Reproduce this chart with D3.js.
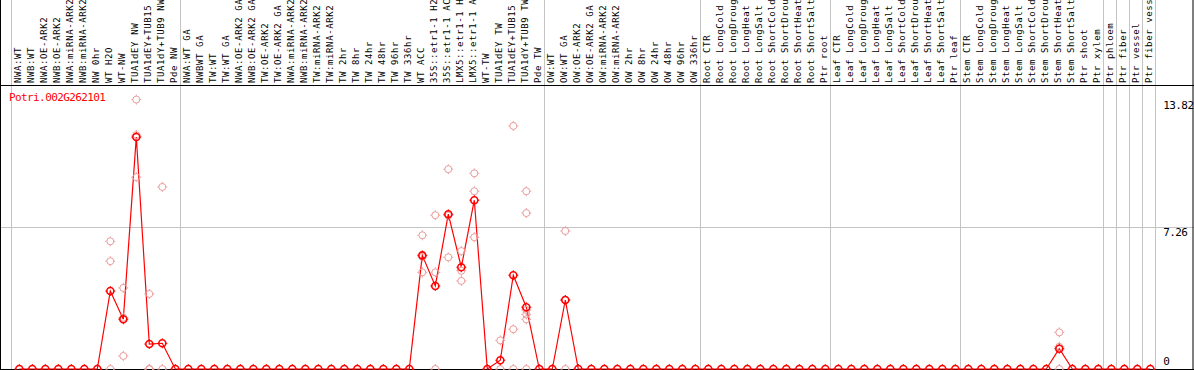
<!DOCTYPE html>
<html>
<head>
<meta charset="utf-8">
<script src="https://cdn.jsdelivr.net/npm/d3@7"></script>
<style>
  body { margin: 0; background: #ffffff; }
  svg { display: block; }
  text { font-family: "DejaVu Sans Mono", "Liberation Mono", monospace; }
</style>
</head>
<body>
<svg width="1194" height="370"></svg>
<script>
const geneName = "Potri.002G262101";

const sampleLabels = [
  "NWA:WT", "NWB:WT", "NWA:OE-ARK2", "NWB:OE-ARK2", "NWA:miRNA-ARK2", "NWB:miRNA-ARK2",
  "NW 0hr", "WT H2O", "WT-NW", "TUA1dEY NW", "TUA1dEY+TUB15 NW", "TUA1dY+TUB9 NW", "Pde NW",
  "NWA:WT GA", "NWBWT GA", "TW:WT", "TW:WT GA", "NWA:OE-ARK2 GA", "NWB:OE-ARK2 GA",
  "TW:OE-ARK2", "TW:OE-ARK2 GA", "NWA:miRNA-ARK2", "NWB:miRNA-ARK2", "TW:miRNA-ARK2",
  "TW:miRNA-ARK2", "TW 2hr", "TW 8hr", "TW 24hr", "TW 48hr", "TW 96hr", "TW 336hr", "WT ACC",
  "35S::etr1-1 H2O", "35S::etr1-1 ACC", "LMX5::etr1-1 H2O", "LMX5::etr1-1 ACC", "WT-TW",
  "TUA1dEY TW", "TUA1dEY+TUB15 TW", "TUA1dY+TUB9 TW", "Pde TW",
  "OW:WT", "OW:WT GA", "OW:OE-ARK2", "OW:OE-ARK2 GA", "OW:miRNA-ARK2", "OW:miRNA-ARK2",
  "OW 2hr", "OW 8hr", "OW 24hr", "OW 48hr", "OW 96hr", "OW 336hr",
  "Root CTR", "Root LongCold", "Root LongDrought", "Root LongHeat", "Root LongSalt",
  "Root ShortCold", "Root ShortDrought", "Root ShortHeat", "Root ShortSalt", "Ptr root",
  "Leaf CTR", "Leaf LongCold", "Leaf LongDrought", "Leaf LongHeat", "Leaf LongSalt",
  "Leaf ShortCold", "Leaf ShortDrought", "Leaf ShortHeat", "Leaf ShortSalt", "Ptr leaf",
  "Stem CTR", "Stem LongCold", "Stem LongDrought", "Stem LongHeat", "Stem LongSalt",
  "Stem ShortCold", "Stem ShortDrought", "Stem ShortHeat", "Stem ShortSalt", "Ptr shoot",
  "Ptr xylem",
  "Ptr phloem", "Ptr fiber", "Ptr vessel", "Ptr fiber vessel"
];

// Sample index where each group starts; the last entry closes the final group.
const groupStarts = [0, 13, 41, 53, 63, 73, 84, 85, 86, 87, 88];

// Mean expression per sample (the dark red line).
const meanValues = [
  0, 0, 0, 0, 0, 0, 0, 4.00, 2.55, 11.90, 1.28, 1.32, 0,
  0, 0, 0, 0, 0, 0, 0, 0, 0, 0, 0, 0, 0, 0, 0, 0, 0, 0,
  5.83, 4.26, 7.94, 5.22, 8.66, 0, 0.45, 4.81, 3.17, 0,
  0, 3.54, 0, 0, 0, 0, 0, 0, 0, 0, 0, 0,
  0, 0, 0, 0, 0, 0, 0, 0, 0, 0,
  0, 0, 0, 0, 0, 0, 0, 0, 0, 0,
  0, 0, 0, 0, 0, 0, 0, 1.04, 0, 0, 0,
  0, 0, 0, 0
];

// Individual replicates per sample (the faint circles), sample index -> values.
const replicateSamples = [7, 8, 9, 10, 11, 31, 32, 33, 34, 35, 37, 38, 39, 42, 80];
const replicateValues = [
  [6.55, 5.53, 0],
  [4.16, 2.63, 0.67],
  [13.82, 9.84, 12.0],
  [3.85, 0, 0],
  [9.34, 0],
  [6.86, 5.75, 4.96],
  [7.89, 4.96, 0],
  [10.25, 7.87, 5.73],
  [6.05, 5.04, 4.52],
  [10.04, 9.12, 6.76],
  [1.47, 0],
  [12.47, 2.04, 0],
  [9.12, 8.00, 3.03, 2.80, 2.55, 0],
  [7.08, 3.54, 0],
  [1.88, 1.14, 0]
];

const yTicks = [0, 7.26, 13.82];

function initGraph() {
  const svg = d3.select("svg");
  const width = +svg.attr("width");
  const height = +svg.attr("height");

  // Each sample gets a 13px column, the plot runs from y=369 (zero) upward.
  const step = 13;
  const x0 = 19.3;
  const xScale = d3.scaleLinear()
    .domain([0, sampleLabels.length])
    .range([x0, x0 + step * sampleLabels.length]);
  const yScale = d3.scaleLinear()
    .domain([0, d3.max(yTicks)])
    .range([369, 99.6]);

  return {svg, width, height, xScale, yScale, headerBottom: 85.5};
}

function drawGrid(graph) {
  const {svg, xScale, yScale, width} = graph;

  // Grey vertical lines between sample groups, through the label strip too.
  svg.append("g")
    .selectAll("line")
    .data(groupStarts)
    .enter()
    .append("line")
    .attr("x1", d => Math.round(xScale(d) - 8) + 0.5)
    .attr("x2", d => Math.round(xScale(d) - 8) + 0.5)
    .attr("y1", 0)
    .attr("y2", 369)
    .attr("stroke", "#c4c4c4")
    .attr("stroke-width", 1);

  // Only the inner tick gets a grey horizontal line.
  svg.append("g")
    .selectAll("line")
    .data(yTicks.slice(1, -1))
    .enter()
    .append("line")
    .attr("x1", 0)
    .attr("x2", width)
    .attr("y1", d => Math.round(yScale(d)) + 0.5)
    .attr("y2", d => Math.round(yScale(d)) + 0.5)
    .attr("stroke", "#c4c4c4")
    .attr("stroke-width", 1);

  // Black frame and the line under the sample names.
  const frame = svg.append("g")
    .attr("stroke", "#000000")
    .attr("stroke-width", 1);
  frame.append("line").attr("x1", 0).attr("x2", width)
    .attr("y1", graph.headerBottom).attr("y2", graph.headerBottom);
  frame.append("line").attr("x1", 0).attr("x2", width)
    .attr("y1", 369.5).attr("y2", 369.5);
  frame.append("line").attr("x1", 0.5).attr("x2", 0.5)
    .attr("y1", 0).attr("y2", 370);
  frame.append("line").attr("x1", 1193).attr("x2", 1193)
    .attr("y1", 0).attr("y2", 370);
}

function drawLabels(graph) {
  const {svg, xScale, yScale} = graph;

  svg.append("g")
    .selectAll("text")
    .data(sampleLabels)
    .enter()
    .append("text")
    .attr("transform", (d, i) => "translate(" + (xScale(i) + 2) + ",83) rotate(-90)")
    .attr("text-anchor", "start")
    .style("font-size", "9px")
    .style("letter-spacing", "0.6px")
    .attr("fill", "#000000")
    .text(d => d);

  svg.append("text")
    .attr("x", 9)
    .attr("y", 101)
    .style("font-size", "11px")
    .style("letter-spacing", "-0.6px")
    .attr("fill", "#ff0000")
    .text(geneName);

  // Value labels on the right; zero sits above its line, the others below.
  svg.append("g")
    .selectAll("text")
    .data(yTicks)
    .enter()
    .append("text")
    .attr("x", xScale(sampleLabels.length))
    .attr("y", d => d === 0 ? yScale(d) - 4 : yScale(d) + 9)
    .style("font-size", "11px")
    .style("letter-spacing", "-0.6px")
    .attr("fill", "#000000")
    .text(d => d);
}

function addMarker(sel, color, width) {
  // Small ring with little stubs, like the original bitmap marker.
  sel.append("circle")
    .attr("r", 3.5)
    .attr("fill", "none")
    .attr("stroke", color)
    .attr("stroke-width", width);
  sel.append("path")
    .attr("d", "M0,-5V-3.5M0,3.5V5M-5,0H-3.5M3.5,0H5")
    .attr("stroke", color)
    .attr("stroke-width", 1);
}

function drawSeries(graph) {
  const {svg, xScale, yScale} = graph;

  const replicates = [];
  replicateSamples.forEach((s, k) => {
    replicateValues[k].forEach(v => replicates.push({i: s, v: v}));
  });

  const plot = svg.append("g");

  plot.append("path")
    .datum(meanValues)
    .attr("fill", "none")
    .attr("stroke", "#ff0000")
    .attr("stroke-width", 1.2)
    .attr("d", d3.line()
      .x((d, i) => xScale(i))
      .y(d => yScale(d)));

  plot.append("g")
    .selectAll("g")
    .data(replicates)
    .enter()
    .append("g")
    .attr("transform", d => "translate(" + xScale(d.i) + "," + yScale(d.v) + ")")
    .call(sel => addMarker(sel, "#eb9c9c", 1));

  plot.append("g")
    .selectAll("g")
    .data(meanValues)
    .enter()
    .append("g")
    .attr("transform", (d, i) => "translate(" + xScale(i) + "," + yScale(d) + ")")
    .call(sel => addMarker(sel, "#ff0000", 1.6));
}

window.addEventListener("load", function() {
  const graph = initGraph();
  drawGrid(graph);
  drawSeries(graph);
  drawLabels(graph);
});
</script>
</body>
</html>
